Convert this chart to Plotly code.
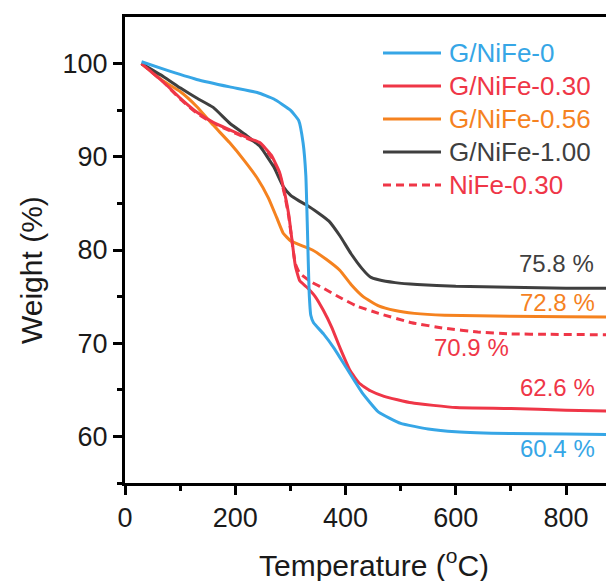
import plotly.graph_objects as go

# ---- data ----
t_g0 = [30, 70, 130, 190, 240, 270, 300, 315, 323, 328, 331, 334, 337, 342, 360, 380, 400, 430, 460, 500, 550, 600, 700, 800, 890]
w_g0 = [100.2, 99.4, 98.3, 97.5, 96.9, 96.2, 95.0, 93.9, 91.5, 88.0, 82.0, 75.5, 73.0, 72.2, 71.0, 69.4, 67.5, 64.7, 62.6, 61.4, 60.8, 60.5, 60.3, 60.25, 60.2]

t_g030 = [30, 70, 100, 130, 160, 190, 220, 245, 265, 280, 290, 297, 303, 309, 317, 330, 345, 360, 375, 390, 408, 425, 445, 470, 520, 600, 700, 800, 890]
w_g030 = [100, 98.0, 96.3, 94.8, 93.7, 92.9, 92.1, 91.5, 90.2, 88.4, 86.0, 83.8, 81.0, 78.3, 76.7, 76.0, 75.0, 73.5, 71.7, 69.5, 67.1, 65.7, 64.9, 64.3, 63.6, 63.1, 63.0, 62.8, 62.7]

t_g056 = [30, 70, 100, 130, 160, 190, 215, 240, 260, 275, 287, 300, 315, 340, 365, 390, 410, 432, 460, 490, 525, 580, 700, 800, 890]
w_g056 = [100, 98.1, 97.0, 95.4, 93.4, 91.5, 89.7, 87.7, 85.6, 83.5, 81.8, 81.0, 80.6, 80.0, 79.0, 77.8, 76.3, 75.0, 74.0, 73.5, 73.2, 73.0, 72.9, 72.85, 72.8]

t_g100 = [30, 70, 100, 130, 160, 190, 220, 245, 270, 287, 300, 315, 330, 350, 370, 390, 410, 430, 445, 460, 490, 530, 600, 700, 800, 890]
w_g100 = [100, 98.6, 97.4, 96.3, 95.3, 93.6, 92.3, 91.1, 88.9, 86.8, 85.9, 85.3, 84.8, 84.0, 83.1, 81.5, 79.6, 78.0, 77.1, 76.8, 76.5, 76.3, 76.1, 76.0, 75.9, 75.9]

t_n030 = [30, 70, 100, 130, 160, 190, 220, 245, 265, 280, 290, 297, 303, 309, 317, 340, 360, 390, 420, 460, 520, 580, 640, 700, 770, 890]
w_n030 = [100, 98.0, 96.2, 94.7, 93.6, 92.8, 92.0, 91.4, 90.0, 88.2, 85.8, 83.6, 80.9, 78.5, 77.5, 76.5, 75.9, 74.9, 74.0, 73.2, 72.2, 71.6, 71.2, 71.0, 70.95, 70.9]

names = ["G/NiFe-0", "G/NiFe-0.30", "G/NiFe-0.56", "G/NiFe-1.00", "NiFe-0.30"]
colors = ["#36A6E6", "#EF3647", "#F5821F", "#3F3F3F", "#EF3647"]
dashes = ["solid", "solid", "solid", "solid", "8px,5px"]

end_labels = ["60.4 %", "62.6 %", "72.8 %", "75.8 %", "70.9 %"]
label_t = [785, 785, 785, 783, 628]
label_w = [58.7, 65.2, 74.4, 78.5, 69.5]

x_ticks = [0, 200, 400, 600, 800]
y_ticks = [60, 70, 80, 90, 100]

series_t = [t_g0, t_g030, t_g056, t_g100, t_n030]
series_w = [w_g0, w_g030, w_g056, w_g100, w_n030]

FONT = "Liberation Sans, Arial, sans-serif"

fig = go.Figure()
for i in [4, 2, 3, 1, 0]:
    fig.add_trace(go.Scatter(
        x=series_t[i], y=series_w[i], mode="lines", name=names[i],
        line=dict(color=colors[i], width=3, dash=dashes[i],
                  shape="spline", smoothing=0.4),
        showlegend=False))

# end value labels
for i in range(5):
    fig.add_annotation(x=label_t[i], y=label_w[i], text=end_labels[i],
                       showarrow=False, xref="x", yref="y",
                       xanchor="center", yanchor="middle",
                       font=dict(family=FONT, size=24, color=colors[i]))

# screen-pixel -> paper coordinates (plot area spans x 125..614, y 17..483 on screen)
L, R, T, B = 125, 614, 17, 483
def px(xp):
    return (xp - L) / (R - L)
def py(yp):
    return (B - yp) / (B - T)

# manual legend
rows = [53, 86, 119, 152, 185]
for i, yy in enumerate(rows):
    fig.add_shape(type="line", xref="paper", yref="paper",
                  x0=px(383), x1=px(441), y0=py(yy), y1=py(yy),
                  line=dict(color=colors[i], width=3, dash=dashes[i]))
    fig.add_annotation(x=px(447), y=py(yy), xref="paper", yref="paper",
                       text=names[i], showarrow=False, xanchor="left",
                       yanchor="middle",
                       font=dict(family=FONT, size=26, color=colors[i]))

# axis titles
fig.add_annotation(x=px(31), y=py(270), xref="paper", yref="paper",
                   text="Weight (%)", showarrow=False, textangle=-90,
                   xanchor="center", yanchor="middle",
                   font=dict(family=FONT, size=30, color="#1a1a1a"))
fig.add_annotation(x=px(374), y=py(563), xref="paper", yref="paper",
                   text="Temperature (<sup>o</sup>C)", showarrow=False,
                   xanchor="center", yanchor="middle",
                   font=dict(family=FONT, size=30, color="#1a1a1a"))

fig.update_xaxes(range=[0, 887], tickvals=x_ticks, ticktext=[str(v) for v in x_ticks],
                 showline=True, linecolor="black", linewidth=3, mirror=True,
                 ticks="outside", ticklen=9, tickwidth=2.5, tickcolor="black",
                 minor=dict(tickvals=[100, 300, 500, 700], ticks="outside", ticklen=5, tickwidth=2.5, tickcolor="black"),
                 showgrid=False, zeroline=False, automargin=False,
                 tickfont=dict(family=FONT, size=27, color="#1a1a1a"))
fig.update_yaxes(range=[55, 105], tickvals=y_ticks, ticktext=[str(v) for v in y_ticks],
                 showline=True, linecolor="black", linewidth=3, mirror=False,
                 ticks="outside", ticklen=9, tickwidth=2.5, tickcolor="black",
                 minor=dict(tickvals=[55, 65, 75, 85, 95], ticks="outside", ticklen=5, tickwidth=2.5, tickcolor="black"),
                 showgrid=False, zeroline=False, automargin=False,
                 tickfont=dict(family=FONT, size=27, color="#1a1a1a"))

# the page body has an 8px margin, so the figure starts 8px in from the top-left
fig.update_layout(width=606, height=573,
                  margin=dict(l=117, r=0, t=9, b=98),
                  plot_bgcolor="white", paper_bgcolor="white",
                  showlegend=False)

fig.write_html("out.html")
